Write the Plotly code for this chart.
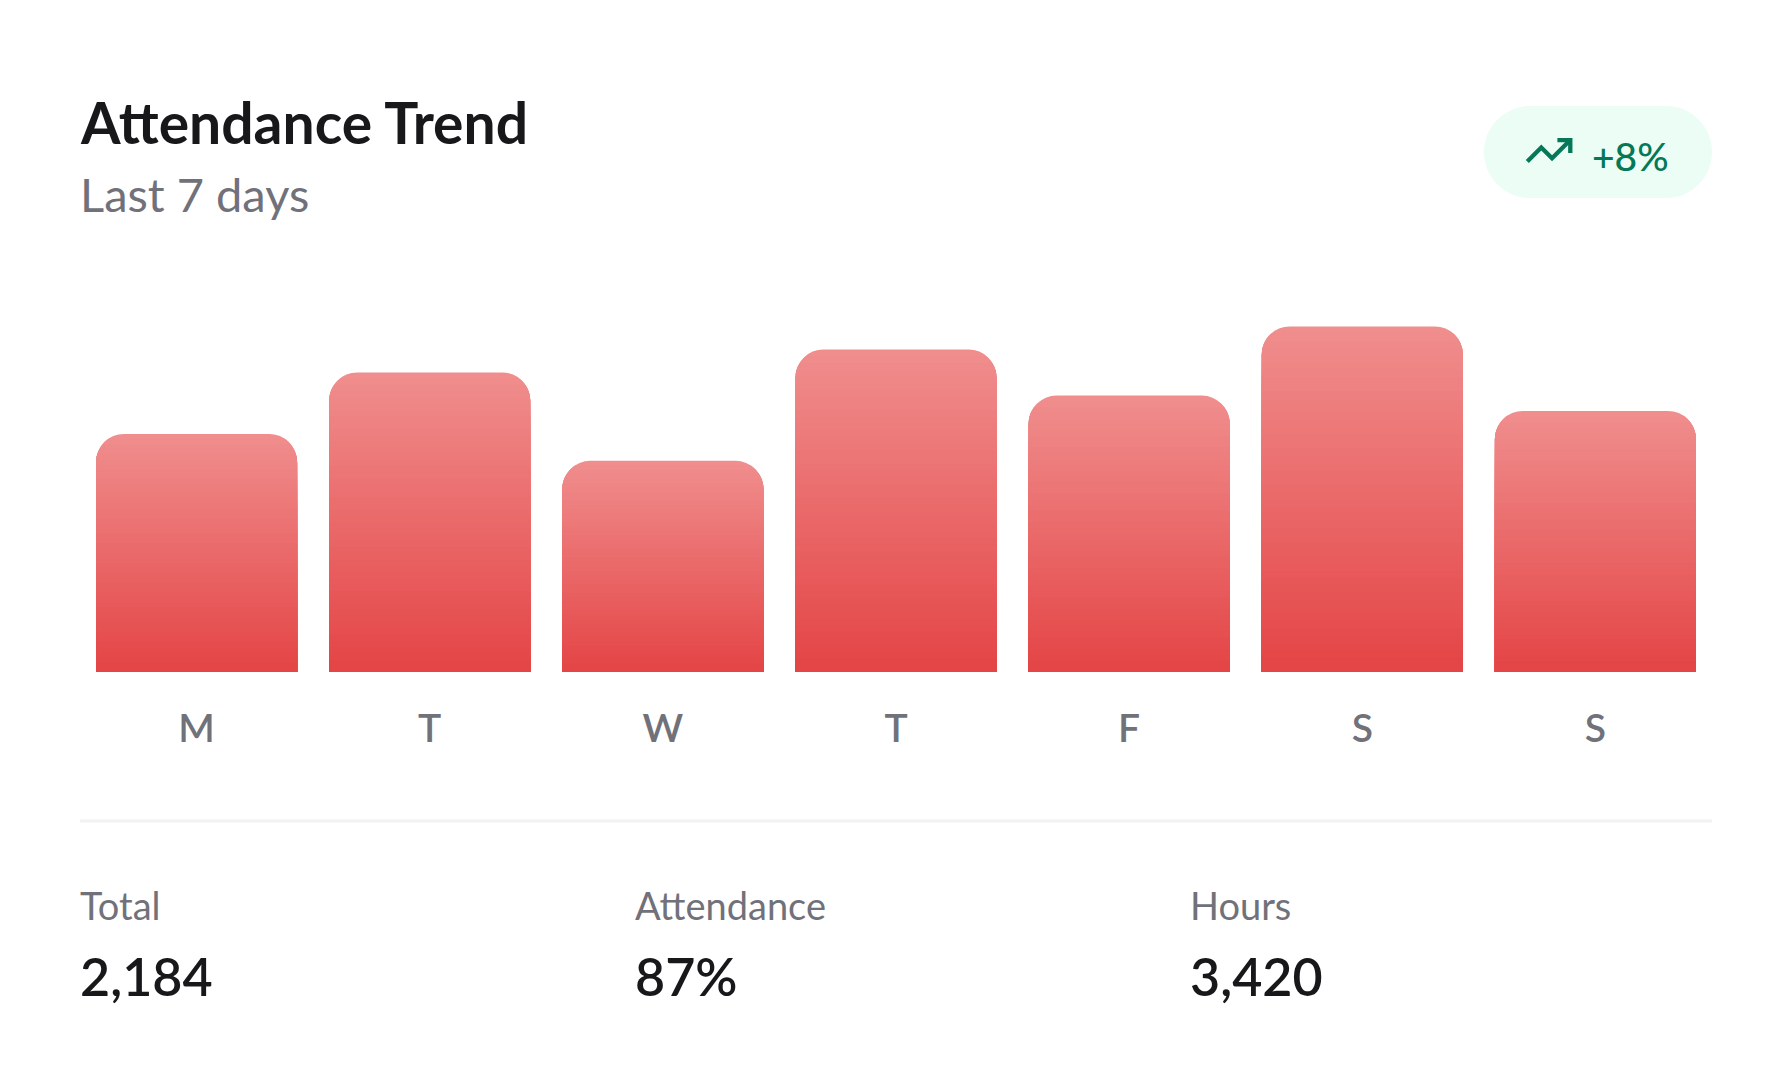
import plotly.graph_objects as go

# ===============================================================
# Data
# ===============================================================

days = ["M", "T", "W", "T", "F", "S", "S"]
attendance = [62, 78, 55, 84, 72, 90, 68]

title = "Attendance Trend"
subtitle = "Last 7 days"
trend_label = "+8%"

stat_labels = ["Total", "Attendance", "Hours"]
stat_values = ["2,184", "87%", "3,420"]

# ===============================================================
# Page geometry (pixels) and helpers
# ===============================================================

W, H = 1792, 1092
PAGE_PAD = 8  # the html body margin shifts the figure by this much
PLOT_X0, PLOT_X1 = 80, 1712  # plot area on the page
PLOT_Y0, PLOT_Y1 = 288, 672
PLOT_W = PLOT_X1 - PLOT_X0
PLOT_H = PLOT_Y1 - PLOT_Y0
TEXT_X = 78  # annotation boxes carry a little padding

FONT = "Lato"
DARK = "#18181b"
MUTED = "#71717a"
GREEN = "#047857"

TOP_RGB = (240, 142, 142)
BOTTOM_RGB = (228, 68, 69)
N_STEPS = 48


def px_x(x):
    return (x - PLOT_X0) / PLOT_W


def px_y(y):
    return (PLOT_Y1 - y) / PLOT_H


def blend(t):
    r, g, b = [round(lo + (hi - lo) * t) for lo, hi in zip(BOTTOM_RGB, TOP_RGB)]
    return f"rgb({r},{g},{b})"


def to_path(cmds):
    # cmds: list of (letter, [(x, y), ...]) in page pixels
    out = []
    for letter, pts in cmds:
        coords = " ".join(f"{px_x(x):.5f},{px_y(y):.5f}" for x, y in pts)
        out.append(f"{letter}{coords}")
    return " ".join(out) + " Z"


def pill_path(x0, y0, x1, y1):
    r = (y1 - y0) / 2
    cy = y0 + r
    k = 0.5523 * r
    return to_path([
        ("M", [(x0 + r, y0)]),
        ("L", [(x1 - r, y0)]),
        ("C", [(x1 - r + k, y0), (x1, cy - k), (x1, cy)]),
        ("C", [(x1, cy + k), (x1 - r + k, y1), (x1 - r, y1)]),
        ("L", [(x0 + r, y1)]),
        ("C", [(x0 + r - k, y1), (x0, cy + k), (x0, cy)]),
        ("C", [(x0, cy - k), (x0 + r - k, y0), (x0 + r, y0)]),
    ])


def polyline(points, ox, oy, s):
    pts = [(ox + x * s, oy + y * s) for x, y in points]
    head = f"M{px_x(pts[0][0]):.5f},{px_y(pts[0][1]):.5f}"
    rest = " ".join(f"L{px_x(x):.5f},{px_y(y):.5f}" for x, y in pts[1:])
    return f"{head} {rest}"


# ===============================================================
# Bars: stacked overlay layers fake a vertical gradient per bar
# ===============================================================

fig = go.Figure()
xs = list(range(len(days)))

for i in range(N_STEPS, 0, -1):
    frac = i / N_STEPS
    is_top = i == N_STEPS
    fig.add_trace(
        go.Bar(
            x=xs,
            y=[v * frac for v in attendance],
            marker=dict(color=blend((i - 0.5) / N_STEPS), cornerradius=28,
                        line=dict(width=0)),
            customdata=list(zip(days, attendance)),
            hovertemplate="%{customdata[0]}: %{customdata[1]}%<extra></extra>",
            hoverinfo=None if is_top else "skip",
            showlegend=False,
        )
    )

# ===============================================================
# Decorations: badge, icon, divider
# ===============================================================

shapes = [
    dict(type="path", xref="paper", yref="paper",
         path=pill_path(1484, 106, 1712, 198),
         fillcolor="#ecfdf5", line=dict(width=0), layer="below"),
    # trending-up icon (24-unit grid)
    dict(type="path", xref="paper", yref="paper",
         path=polyline([(22, 7), (13.5, 15.5), (8.5, 10.5), (2, 17)], 1523, 125, 2.15),
         line=dict(color=GREEN, width=4.3)),
    dict(type="path", xref="paper", yref="paper",
         path=polyline([(16, 7), (22, 7), (22, 13)], 1523, 125, 2.15),
         line=dict(color=GREEN, width=4.3)),
    dict(type="line", xref="paper", yref="paper",
         x0=0, x1=1, y0=px_y(821), y1=px_y(821),
         line=dict(color="#f2f2f3", width=3)),
]

annotations = [
    dict(text=title, x=px_x(TEXT_X), y=px_y(122), xanchor="left", yanchor="middle",
         font=dict(family=FONT, size=57, color=DARK, weight=700)),
    dict(text=subtitle, x=px_x(TEXT_X), y=px_y(194), xanchor="left", yanchor="middle",
         font=dict(family=FONT, size=47, color=MUTED)),
    dict(text=trend_label, x=px_x(1590), y=px_y(156), xanchor="left",
         yanchor="middle", font=dict(family=FONT, size=39, color=GREEN, weight=500)),
]

stat_x = [TEXT_X, 633, 1188]
for sx, lab, val in zip(stat_x, stat_labels, stat_values):
    annotations.append(
        dict(text=lab, x=px_x(sx), y=px_y(905), xanchor="left", yanchor="middle",
             font=dict(family=FONT, size=38, color=MUTED))
    )
    annotations.append(
        dict(text=val, x=px_x(sx), y=px_y(976), xanchor="left", yanchor="middle",
             font=dict(family=FONT, size=52, color=DARK, weight=600))
    )

for a in annotations:
    a.update(xref="paper", yref="paper", showarrow=False)

# ===============================================================
# Axes and layout
# ===============================================================

fig.update_xaxes(
    range=[-0.5, len(days) - 0.5],
    tickmode="array",
    tickvals=xs,
    ticktext=days,
    showgrid=False,
    zeroline=False,
    showline=False,
    ticks="",
    ticklabelstandoff=30,
    tickfont=dict(family=FONT, size=39, color=MUTED, weight=600),
    fixedrange=True,
)
fig.update_yaxes(range=[0, 100], visible=False, fixedrange=True)

fig.update_layout(
    width=W,
    height=H,
    margin=dict(
        l=PLOT_X0 - PAGE_PAD,
        r=W - PLOT_X1 + PAGE_PAD,
        t=PLOT_Y0 - PAGE_PAD,
        b=H - PLOT_Y1 + PAGE_PAD,
    ),
    barmode="overlay",
    bargap=32 / 233,
    paper_bgcolor="white",
    plot_bgcolor="white",
    shapes=shapes,
    annotations=annotations,
    font=dict(family=FONT),
)

fig.write_html("out.html")
